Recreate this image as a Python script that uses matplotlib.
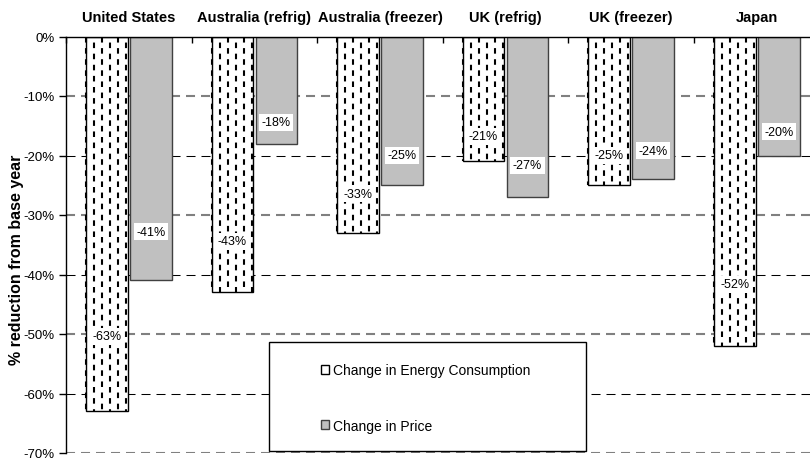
import matplotlib
matplotlib.use("Agg")
import matplotlib.pyplot as plt
import numpy as np
from matplotlib.lines import Line2D
from matplotlib.patches import Rectangle
from matplotlib.ticker import FuncFormatter, FixedLocator

plt.rcParams['font.family'] = ['Liberation Sans', 'DejaVu Sans']
plt.rcParams['axes.unicode_minus'] = False
plt.rcParams['lines.scale_dashes'] = False

categories = ["United States", "Australia (refrig)", "Australia (freezer)",
              "UK (refrig)", "UK (freezer)", "Japan"]
energy = [-63, -43, -33, -21, -25, -52]
price = [-41, -18, -25, -27, -24, -20]
series_names = ["Change in Energy Consumption", "Change in Price"]
yticks = [0, -10, -20, -30, -40, -50, -60, -70]

fig = plt.figure(figsize=(8.1, 4.6), dpi=100)
ax = fig.add_axes([66/810, 1-454/460, 753.6/810, 416.5/460])

x = np.arange(len(categories))
bw = 0.33
off = 0.175

# gridlines (alternating gray / black dashed as in reference)
for i, yv in enumerate(yticks[1:]):
    if i % 2 == 0:
        ax.axhline(yv, color='#808080', lw=1.5, ls=(0, (6.5, 4.3)), zorder=0.5)
    else:
        ax.axhline(yv, color='black', lw=0.75, ls=(0, (6.5, 4.3)), zorder=0.5)

eb = ax.bar(x - off, energy, bw, color='white', edgecolor='black', lw=1.0,
            zorder=2, label=series_names[0])
pb = ax.bar(x + off, price, bw, color='#C0C0C0', edgecolor='#404040', lw=1.0,
            zorder=2, label=series_names[1])

# dashed vertical pattern inside energy bars
step = 8 / 125.6
for patch in eb.patches:
    x0 = patch.get_x()
    w = patch.get_width()
    h = patch.get_height()
    k = 0
    while k * step <= w + 1e-9:
        xc = x0 + k * step
        ln = Line2D([xc, xc], [0, h], color='black', lw=1.5,
                    ls=((4.0 if k % 2 else 0), (4.0, 4.0)), zorder=2.5)
        ln.set_clip_path(patch)
        ax.add_line(ln)
        k += 1

# data labels
for xi, v in zip(x - off, energy):
    ax.text(xi, v * 0.8, f"{v}%", ha='center', va='center', fontsize=9,
            zorder=4, bbox=dict(boxstyle='square,pad=0.2', fc='white', ec='none'))
for xi, v in zip(x + off, price):
    ax.text(xi, v * 0.8, f"{v}%", ha='center', va='center', fontsize=9,
            zorder=4, bbox=dict(boxstyle='square,pad=0.2', fc='white', ec='none'))

ax.set_xlim(-0.5, len(categories) - 0.5)
ax.set_ylim(-70, 0)

ax.xaxis.tick_top()
ax.xaxis.set_major_locator(FixedLocator(np.arange(len(categories) + 1) - 0.5))
ax.xaxis.set_major_formatter(FuncFormatter(lambda v, p: ""))
ax.xaxis.set_minor_locator(FixedLocator(x))
ax.set_xticks(x, categories, minor=True)
ax.tick_params(axis='x', which='major', direction='in', length=4, width=1, top=True, bottom=False)
ax.tick_params(axis='x', which='minor', length=0, pad=9, labelsize=10.5, top=True, bottom=False)
for t in ax.get_xticklabels(minor=True):
    t.set_fontweight('bold')

ax.set_yticks(yticks)
ax.yaxis.set_major_formatter(FuncFormatter(lambda v, p: f"{int(round(v))}%"))
ax.tick_params(axis='y', direction='out', length=5, width=1, labelsize=9.5, pad=3)

ax.set_ylabel("% reduction from base year", fontsize=11.5, fontweight='bold')
ax.yaxis.set_label_coords(-0.065, 0.466)
ax.yaxis.label.set_position((0, 0.466))
ax.yaxis.label.set_x(0)
ax.yaxis.set_label_coords((17 - 66) / 753.6, 0.466)
ax.yaxis.label.set_va('center')

for s in ['right', 'bottom']:
    ax.spines[s].set_visible(False)
ax.spines['top'].set_linewidth(1)
ax.spines['left'].set_linewidth(1)

# legend box
ax.add_patch(Rectangle((0.2694, 0.005), 0.4206, 0.2615, transform=ax.transAxes,
                       facecolor='white', edgecolor='black', lw=1, zorder=5))
leg = ax.legend(handles=[eb, pb], labels=series_names, loc='upper left',
                bbox_to_anchor=(0.3384, 0.2161), frameon=False, fontsize=10,
                handlelength=0.6, handleheight=0.6, handletextpad=0.25,
                labelspacing=3.0, borderpad=0, borderaxespad=0)
leg.set_zorder(6)

fig.savefig("out.png", dpi=100)
